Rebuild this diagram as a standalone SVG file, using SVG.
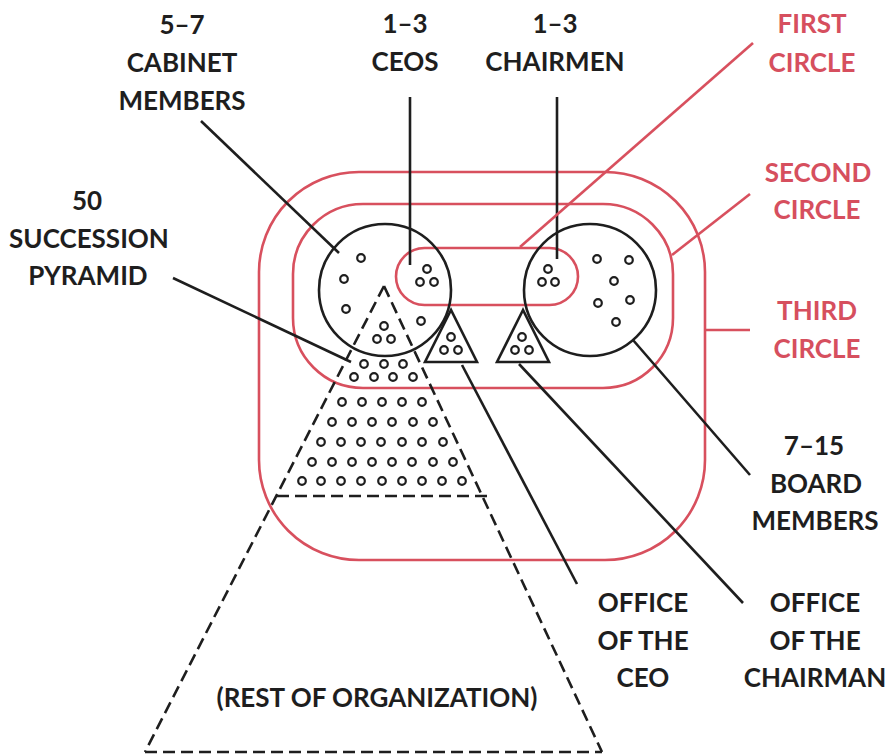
<svg xmlns="http://www.w3.org/2000/svg" width="887" height="754" viewBox="0 0 887 754">
<style>
.bg{fill:#ffffff}
.red{fill:none;stroke:#d8505e;stroke-width:2.6}
.blk{fill:none;stroke:#1e1e1e;stroke-width:2.6}
.dash{fill:none;stroke:#1e1e1e;stroke-width:2.6;stroke-dasharray:12 6}
.dot{fill:none;stroke:#1e1e1e;stroke-width:2.2}
.lbl{font-family:Lato,'Noto Sans',sans-serif;font-weight:700;font-size:26px;text-anchor:middle;fill:#1e1e1e}
.rlbl{font-family:Lato,'Noto Sans',sans-serif;font-weight:700;font-size:26px;text-anchor:middle;fill:#d64f5e}
</style>
<rect class="bg" x="0" y="0" width="887" height="754"/>

<g id="third-circle"><rect class="red" x="259" y="172" width="446" height="388" rx="100"/></g>
<g id="second-circle"><rect class="red" x="293" y="204" width="380" height="184" rx="70"/></g>
<g id="first-circle"><rect class="red" x="396" y="248" width="182" height="57" rx="28.5"/></g>

<g id="cabinet-members">
<circle class="blk" cx="385" cy="290" r="66"/>
<circle class="dot" cx="361" cy="258" r="3.8"/>
<circle class="dot" cx="344" cy="279" r="3.8"/>
<circle class="dot" cx="346" cy="309" r="3.8"/>
<circle class="dot" cx="421" cy="321" r="3.8"/>
</g>

<g id="ceos">
<circle class="dot" cx="427" cy="269" r="3.8"/>
<circle class="dot" cx="420" cy="282" r="3.8"/>
<circle class="dot" cx="434" cy="282" r="3.8"/>
</g>

<g id="chairmen">
<circle class="dot" cx="548" cy="269" r="3.8"/>
<circle class="dot" cx="542" cy="282" r="3.8"/>
<circle class="dot" cx="555" cy="282" r="3.8"/>
</g>

<g id="board-members">
<circle class="blk" cx="590" cy="290" r="66"/>
<circle class="dot" cx="597" cy="259" r="3.8"/>
<circle class="dot" cx="629" cy="260" r="3.8"/>
<circle class="dot" cx="614" cy="281" r="3.8"/>
<circle class="dot" cx="598" cy="303" r="3.8"/>
<circle class="dot" cx="630" cy="300" r="3.8"/>
<circle class="dot" cx="616" cy="322" r="3.8"/>
</g>

<g id="office-of-the-ceo">
<polygon class="blk" points="451,310 425,362 477,362"/>
<circle class="dot" cx="451" cy="337" r="3.8"/>
<circle class="dot" cx="444" cy="350" r="3.8"/>
<circle class="dot" cx="458" cy="350" r="3.8"/>
</g>

<g id="office-of-the-chairman">
<polygon class="blk" points="523,310 497,362 549,362"/>
<circle class="dot" cx="522" cy="337" r="3.8"/>
<circle class="dot" cx="515" cy="350" r="3.8"/>
<circle class="dot" cx="529" cy="350" r="3.8"/>
</g>

<g id="succession-pyramid">
<line class="dash" x1="384" y1="286" x2="145" y2="752"/>
<line class="dash" x1="384" y1="286" x2="602" y2="752"/>
<line class="dash" x1="277" y1="496" x2="487" y2="496"/>
<circle class="dot" cx="384" cy="326" r="3.8"/>
<circle class="dot" cx="377" cy="339" r="3.8"/>
<circle class="dot" cx="391" cy="339" r="3.8"/>
<circle class="dot" cx="364" cy="364" r="3.8"/>
<circle class="dot" cx="384" cy="364" r="3.8"/>
<circle class="dot" cx="403" cy="364" r="3.8"/>
<circle class="dot" cx="354" cy="377" r="3.8"/>
<circle class="dot" cx="374" cy="377" r="3.8"/>
<circle class="dot" cx="393" cy="377" r="3.8"/>
<circle class="dot" cx="413" cy="377" r="3.8"/>
<circle class="dot" cx="342" cy="402" r="3.8"/>
<circle class="dot" cx="362" cy="402" r="3.8"/>
<circle class="dot" cx="382" cy="402" r="3.8"/>
<circle class="dot" cx="402" cy="402" r="3.8"/>
<circle class="dot" cx="422" cy="402" r="3.8"/>
<circle class="dot" cx="332" cy="422" r="3.8"/>
<circle class="dot" cx="352" cy="422" r="3.8"/>
<circle class="dot" cx="372" cy="422" r="3.8"/>
<circle class="dot" cx="392" cy="422" r="3.8"/>
<circle class="dot" cx="413" cy="422" r="3.8"/>
<circle class="dot" cx="433" cy="422" r="3.8"/>
<circle class="dot" cx="321" cy="442" r="3.8"/>
<circle class="dot" cx="341" cy="442" r="3.8"/>
<circle class="dot" cx="361" cy="442" r="3.8"/>
<circle class="dot" cx="381" cy="442" r="3.8"/>
<circle class="dot" cx="402" cy="442" r="3.8"/>
<circle class="dot" cx="422" cy="442" r="3.8"/>
<circle class="dot" cx="443" cy="442" r="3.8"/>
<circle class="dot" cx="312" cy="462" r="3.8"/>
<circle class="dot" cx="332" cy="462" r="3.8"/>
<circle class="dot" cx="352" cy="462" r="3.8"/>
<circle class="dot" cx="372" cy="462" r="3.8"/>
<circle class="dot" cx="392" cy="462" r="3.8"/>
<circle class="dot" cx="412" cy="462" r="3.8"/>
<circle class="dot" cx="433" cy="462" r="3.8"/>
<circle class="dot" cx="453" cy="462" r="3.8"/>
<circle class="dot" cx="302" cy="481" r="3.8"/>
<circle class="dot" cx="321" cy="481" r="3.8"/>
<circle class="dot" cx="341" cy="481" r="3.8"/>
<circle class="dot" cx="361" cy="481" r="3.8"/>
<circle class="dot" cx="382" cy="481" r="3.8"/>
<circle class="dot" cx="402" cy="481" r="3.8"/>
<circle class="dot" cx="422" cy="481" r="3.8"/>
<circle class="dot" cx="442" cy="481" r="3.8"/>
<circle class="dot" cx="462" cy="481" r="3.8"/>
</g>

<g id="rest-of-organization">
<line class="dash" x1="145" y1="752" x2="602" y2="752"/>
<text class="lbl" x="377" y="707">(REST OF ORGANIZATION)</text>
</g>

<g id="connectors">
<line class="blk" x1="201" y1="121" x2="339" y2="253"/>
<line class="blk" x1="410" y1="97" x2="410" y2="265"/>
<line class="blk" x1="557" y1="97" x2="557" y2="259"/>
<line class="blk" x1="173" y1="278" x2="351" y2="362"/>
<line class="blk" x1="462" y1="365" x2="577" y2="584"/>
<line class="blk" x1="519" y1="364" x2="743" y2="603"/>
<line class="blk" x1="633" y1="340" x2="750" y2="475"/>
<line class="red" x1="753" y1="43" x2="520" y2="247"/>
<line class="red" x1="750" y1="194" x2="672" y2="255"/>
<line class="red" x1="705" y1="330" x2="750" y2="330"/>
</g>

<g id="labels">
<text class="lbl" x="182" y="34">5–7</text>
<text class="lbl" x="182" y="72">CABINET</text>
<text class="lbl" x="182" y="110">MEMBERS</text>
<text class="lbl" x="405" y="33">1–3</text>
<text class="lbl" x="405" y="71">CEOS</text>
<text class="lbl" x="555" y="33">1–3</text>
<text class="lbl" x="555" y="71">CHAIRMEN</text>
<text class="rlbl" x="812" y="33">FIRST</text>
<text class="rlbl" x="812" y="72">CIRCLE</text>
<text class="rlbl" x="818" y="182">SECOND</text>
<text class="rlbl" x="817" y="219">CIRCLE</text>
<text class="rlbl" x="817" y="320">THIRD</text>
<text class="rlbl" x="817" y="358">CIRCLE</text>
<text class="lbl" x="87" y="210">50</text>
<text class="lbl" x="89" y="248">SUCCESSION</text>
<text class="lbl" x="88" y="285">PYRAMID</text>
<text class="lbl" x="814" y="455">7–15</text>
<text class="lbl" x="816" y="493">BOARD</text>
<text class="lbl" x="815" y="530">MEMBERS</text>
<text class="lbl" x="643" y="612">OFFICE</text>
<text class="lbl" x="643" y="650">OF THE</text>
<text class="lbl" x="643" y="687">CEO</text>
<text class="lbl" x="815" y="612">OFFICE</text>
<text class="lbl" x="815" y="650">OF THE</text>
<text class="lbl" x="815" y="687">CHAIRMAN</text>
</g>
</svg>
